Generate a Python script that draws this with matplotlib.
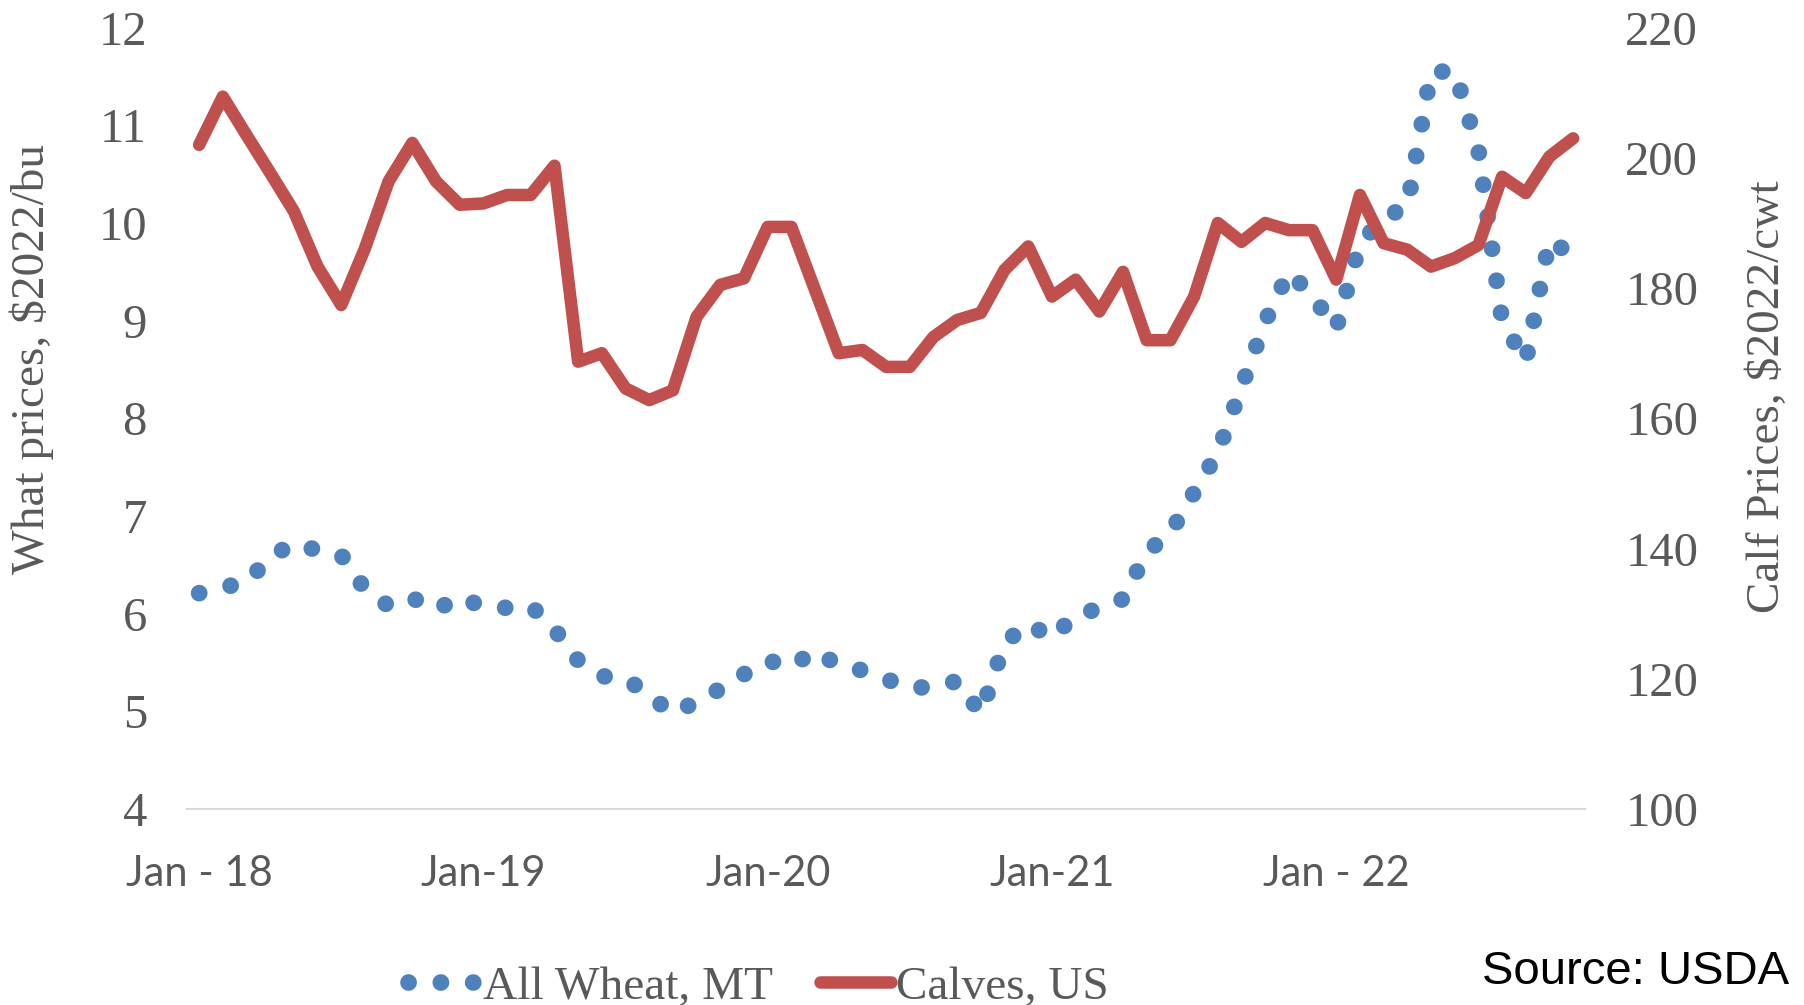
import matplotlib
matplotlib.use("Agg")
import matplotlib.pyplot as plt
import numpy as np

# ---- data (monthly, Jan 2018 - Nov 2022) ----
wheat = [6.21, 6.27, 6.32, 6.58, 6.72, 6.65, 6.60, 6.25, 6.08, 6.16, 6.04, 6.17,
         6.07, 6.06, 6.08, 5.84, 5.52, 5.36, 5.34, 5.16, 4.98, 5.10, 5.23, 5.38,
         5.52, 5.46, 5.62, 5.47, 5.42, 5.33, 5.24, 5.25, 5.31, 4.98, 5.70, 5.90,
         5.75, 5.99, 6.05, 6.15, 6.63, 6.83, 7.24, 7.65, 8.32, 8.99, 9.50, 9.25,
         8.92, 9.79, 10.05, 10.17, 11.55, 11.55, 10.75, 9.00, 8.58, 9.83, 9.66]
calves = [202.0, 209.4, 203.5, 197.7, 191.8, 183.3, 177.4, 186.1, 196.4, 202.3, 196.4, 192.8,
          193.0, 194.3, 194.3, 198.8, 168.7, 170.0, 164.6, 162.8, 164.3, 175.6, 180.5, 181.5,
          189.4, 189.4, 179.7, 170.0, 170.5, 167.9, 167.9, 172.5, 175.1, 176.2, 182.8, 186.4,
          178.7, 181.3, 176.4, 182.5, 172.0, 172.0, 178.7, 190.0, 187.1, 190.0, 188.9, 188.9,
          181.3, 194.3, 186.9, 185.9, 183.3, 184.6, 186.6, 197.1, 194.6, 200.2, 203.0]
tick_positions = [0, 12, 24, 36, 48]
tick_labels = ["Jan - 18", "Jan-19", "Jan-20", "Jan-21", "Jan - 22"]
left_ticks = [4, 5, 6, 7, 8, 9, 10, 11, 12]
right_ticks = [100, 120, 140, 160, 180, 200, 220]

BLUE = "#4F81BD"
RED = "#C0504D"
GREY = "#595959"
SERIF = "Liberation Serif"

x = np.arange(len(calves))

fig = plt.figure(figsize=(18.04, 10.05), dpi=100)
ax = fig.add_axes([0.1038, 0.195, 0.7748, 0.7775])

wl, = ax.plot(x, wheat, color=BLUE, lw=12, linestyle=(0, (0.01, 1.93)),
              dash_capstyle="round", dash_joinstyle="round", label="All Wheat, MT")
ax.set_xlim(-0.5, len(calves) - 0.5)
ax.set_ylim(4, 12)
ax.set_yticks(left_ticks)
ax.set_xticks(tick_positions)
ax.set_xticklabels(tick_labels)

ax2 = ax.twinx()
cl, = ax2.plot(x, calves, color=RED, lw=9, solid_capstyle="round",
               solid_joinstyle="round", label="Calves, US")
ax2.set_ylim(100, 220)
ax2.set_yticks(right_ticks)

for a in (ax, ax2):
    for s in a.spines.values():
        s.set_visible(False)
ax.spines["bottom"].set_visible(True)
ax.spines["bottom"].set_color("#D9D9D9")
ax.spines["bottom"].set_linewidth(1.5)

ax.tick_params(axis="both", length=0)
ax2.tick_params(axis="both", length=0)
ax.tick_params(axis="y", pad=29, labelcolor=GREY)
ax.tick_params(axis="x", pad=33, labelcolor=GREY)
ax2.tick_params(axis="y", pad=29, labelcolor=GREY)
for lab in ax.get_yticklabels() + ax2.get_yticklabels():
    lab.set_fontfamily(SERIF)
    lab.set_fontsize(35)
for lab in ax.get_xticklabels():
    lab.set_fontfamily("Lato")
    lab.set_fontsize(30)

fig.text(32 / 1804, 0.643, "What prices, $2022/bu", rotation=90, ha="center", va="center",
         family=SERIF, fontsize=34, color=GREY)
fig.text(1768 / 1804, 0.605, "Calf Prices, $2022/cwt", rotation=90, ha="center", va="center",
         family=SERIF, fontsize=34, color=GREY)

fig.legend(handles=[wl, cl], loc="center", bbox_to_anchor=(758 / 1804, 1 - 987 / 1005),
           ncol=2, frameon=False, prop={"family": SERIF, "size": 34}, labelcolor=GREY,
           handlelength=1.5, handletextpad=0.1, columnspacing=1.0)

fig.text(1482 / 1804, 1 - 984 / 1005, "Source: USDA", family="Liberation Sans",
         fontsize=34, color="black", ha="left", va="baseline")

fig.savefig("out.png", dpi=100)
